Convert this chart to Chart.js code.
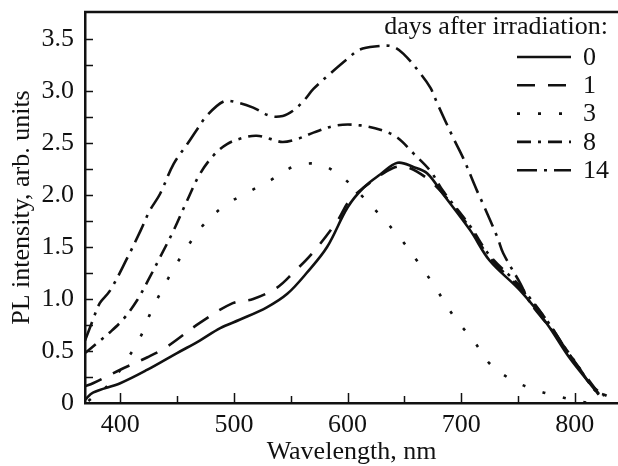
<!DOCTYPE html>
<html>
<head>
<meta charset="utf-8">
<title>PL spectra after irradiation</title>
<script src="https://cdn.jsdelivr.net/npm/chart.js@4.4.1/dist/chart.umd.min.js"></script>
<style>
    html, body { margin: 0; padding: 0; background: #fff; }
    #wrap { width: 618px; height: 466px; }
</style>
</head>
<body>
<div id="wrap"><canvas id="plChart"></canvas></div>
<script>
// ---- data (wavelength in nm, PL in arb. units) ----
const wl0 = [369, 376, 400, 424, 450, 470, 488, 505, 529, 547, 564, 582, 600, 614, 629, 644, 658, 670, 684, 708, 725, 752, 775, 795, 816, 821];
const pl0 = [0.03, 0.10, 0.19, 0.32, 0.48, 0.60, 0.72, 0.80, 0.92, 1.05, 1.25, 1.50, 1.88, 2.07, 2.20, 2.31, 2.27, 2.21, 2.01, 1.66, 1.37, 1.08, 0.77, 0.44, 0.15, 0.08];

const wl1 = [369, 376, 400, 424, 441, 470, 499, 517, 538, 552, 569, 591, 602, 620, 640, 652, 670, 685, 708, 725, 752, 775, 795, 815, 823];
const pl1 = [0.16, 0.19, 0.32, 0.44, 0.54, 0.77, 0.96, 1.00, 1.11, 1.25, 1.44, 1.75, 1.95, 2.12, 2.26, 2.27, 2.16, 2.00, 1.68, 1.40, 1.10, 0.80, 0.47, 0.18, 0.06];

const wl3 = [372, 391, 406, 418, 426, 435, 447, 459, 473, 492, 513, 532, 552, 573, 592, 611, 629, 646, 661, 675, 695, 711, 725, 745, 767, 787, 807, 815];
const pl3 = [0.02, 0.19, 0.42, 0.64, 0.85, 1.05, 1.29, 1.50, 1.71, 1.90, 2.03, 2.14, 2.27, 2.30, 2.20, 2.01, 1.80, 1.59, 1.37, 1.15, 0.81, 0.60, 0.38, 0.22, 0.12, 0.06, 0.01, 0.00];

const wl8 = [369, 380, 391, 403, 415, 426, 435, 447, 459, 470, 482, 494, 508, 520, 532, 543, 556, 570, 591, 611, 631, 644, 658, 673, 684, 708, 725, 752, 775, 795, 815, 826];
const pl8 = [0.48, 0.58, 0.68, 0.81, 0.99, 1.21, 1.40, 1.66, 1.95, 2.20, 2.38, 2.49, 2.55, 2.57, 2.54, 2.51, 2.54, 2.60, 2.67, 2.67, 2.62, 2.55, 2.40, 2.23, 2.04, 1.70, 1.42, 1.12, 0.80, 0.47, 0.17, 0.07];

const wl14 = [369, 376, 382, 391, 406, 418, 426, 435, 447, 459, 467, 476, 491, 503, 517, 532, 543, 552, 561, 570, 585, 600, 611, 626, 639, 649, 664, 673, 679, 693, 702, 714, 719, 732, 737, 752, 761, 780, 800, 818, 828];
const pl14 = [0.60, 0.80, 0.96, 1.08, 1.39, 1.66, 1.85, 2.01, 2.30, 2.49, 2.62, 2.76, 2.90, 2.89, 2.84, 2.76, 2.76, 2.81, 2.90, 3.02, 3.17, 3.31, 3.40, 3.43, 3.43, 3.36, 3.17, 3.03, 2.88, 2.55, 2.35, 2.04, 1.92, 1.59, 1.44, 1.15, 0.96, 0.70, 0.40, 0.12, 0.07];

const seriesLabels = ['0', '1', '3', '8', '14'];
const xTicks = [400, 500, 600, 700, 800];
const yTicks = [0, 0.5, 1.0, 1.5, 2.0, 2.5, 3.0, 3.5];

const FONT = 'Liberation Serif, Times New Roman, serif';
const INK = '#111';

function toPoints(xs, ys) {
    return xs.map((x, i) => ({ x: x, y: ys[i] }));
}

function makeSet(label, xs, ys, dash) {
    return {
        label: label,
        data: toPoints(xs, ys),
        borderColor: INK,
        borderWidth: 2.6,
        borderDash: dash,
        pointRadius: 0,
        fill: false,
        tension: 0.35
    };
}

// inward ticks, top frame line
const frameTicks = {
    id: 'frameTicks',
    afterDraw(chart) {
        const ctx = chart.ctx;
        const a = chart.chartArea;
        const xs = chart.scales.x;
        const ys = chart.scales.y;
        ctx.save();
        ctx.strokeStyle = INK;
        ctx.lineWidth = 2.5;
        ctx.beginPath();
        ctx.moveTo(a.left - 1, a.top);
        ctx.lineTo(a.right, a.top);
        ctx.stroke();

        ctx.lineWidth = 1.5;
        ctx.beginPath();
        for (let v = 400; v <= xs.max; v += 50) {
            const px = Math.round(xs.getPixelForValue(v)) + 0.5;
            const len = (v % 100 === 0) ? 10 : 7;
            ctx.moveTo(px, a.bottom);
            ctx.lineTo(px, a.bottom - len);
        }
        for (let v = 0.25; v < ys.max - 0.05; v += 0.25) {
            const py = Math.round(ys.getPixelForValue(v)) + 0.5;
            ctx.moveTo(a.left, py);
            ctx.lineTo(a.left + 8, py);
        }
        ctx.stroke();
        ctx.restore();
    }
};

// legend drawn top right: title then line sample + label
const sideLegend = {
    id: 'sideLegend',
    afterDraw(chart) {
        const ctx = chart.ctx;
        ctx.save();
        ctx.fillStyle = INK;
        ctx.font = '26px ' + FONT;
        ctx.textBaseline = 'middle';
        ctx.textAlign = 'right';
        ctx.fillText('days after irradiation:', 608, 27);
        ctx.textAlign = 'left';
        chart.data.datasets.forEach(function(ds, i) {
            const y = 57 + i * 28.3;
            ctx.strokeStyle = INK;
            ctx.lineWidth = 2.6;
            ctx.setLineDash(ds.borderDash || []);
            ctx.beginPath();
            ctx.moveTo(517, y);
            ctx.lineTo(571, y);
            ctx.stroke();
            ctx.setLineDash([]);
            ctx.fillText(ds.label, 583, y + 1);
        });
        ctx.restore();
    }
};

new Chart(document.getElementById('plChart'), {
    type: 'line',
    data: {
        datasets: [
            makeSet(seriesLabels[0], wl0, pl0, []),
            makeSet(seriesLabels[1], wl1, pl1, [18, 13]),
            makeSet(seriesLabels[2], wl3, pl3, [3, 18]),
            makeSet(seriesLabels[3], wl8, pl8, [14, 7, 3, 7]),
            makeSet(seriesLabels[4], wl14, pl14, [20, 7, 3, 7])
        ]
    },
    options: {
        responsive: true,
        maintainAspectRatio: false,
        animation: false,
        devicePixelRatio: 1,
        layout: { padding: { top: 12, right: 0, left: 0, bottom: 0 } },
        plugins: {
            legend: { display: false },
            tooltip: { enabled: false }
        },
        scales: {
            x: {
                type: 'linear',
                min: 369,
                max: 838,
                afterBuildTicks: function(scale) {
                    scale.ticks = xTicks.map(v => ({ value: v }));
                },
                afterFit: function(scale) { scale.height = 63; },
                grid: { display: false },
                border: { display: true, color: INK, width: 2.5 },
                ticks: {
                    color: INK,
                    font: { family: FONT, size: 26 },
                    padding: -1,
                    maxRotation: 0
                },
                title: {
                    display: true,
                    text: 'Wavelength, nm',
                    color: INK,
                    font: { family: FONT, size: 26 },
                    padding: { top: 0, bottom: -2 }
                }
            },
            y: {
                min: 0,
                max: 3.76,
                afterBuildTicks: function(scale) {
                    scale.ticks = yTicks.map(v => ({ value: v }));
                },
                afterFit: function(scale) {
                    scale.width = 85;
                    scale.paddingTop = 0;
                    scale.paddingBottom = 0;
                },
                grid: { display: false },
                border: { display: true, color: INK, width: 2.5 },
                ticks: {
                    color: INK,
                    font: { family: FONT, size: 26 },
                    padding: 3,
                    callback: function(v) { return v === 0 ? '0' : v.toFixed(1); }
                },
                title: {
                    display: true,
                    text: 'PL intensity, arb. units',
                    color: INK,
                    font: { family: FONT, size: 26 },
                    padding: { top: 7, bottom: 0 }
                }
            }
        }
    },
    plugins: [frameTicks, sideLegend]
});
</script>
</body>
</html>
